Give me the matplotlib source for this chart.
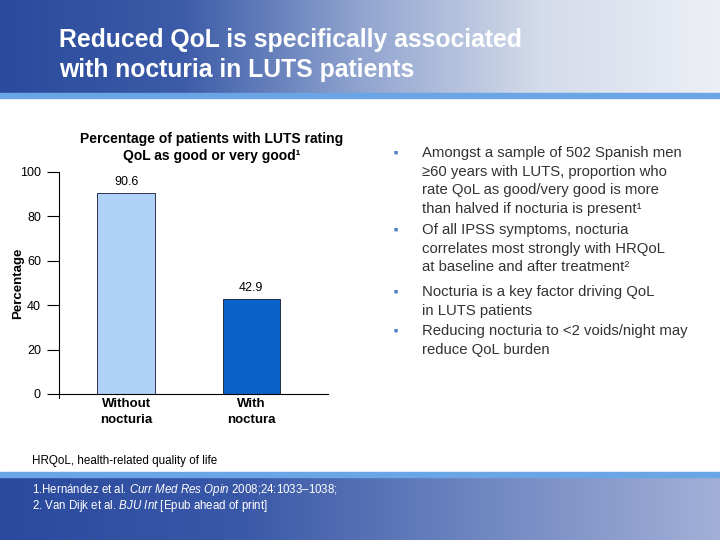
import matplotlib
matplotlib.use("Agg")
import matplotlib.pyplot as plt
import numpy as np
from matplotlib.colors import LinearSegmentedColormap

plt.rcParams['font.family'] = ['Liberation Sans', 'DejaVu Sans']
plt.rcParams['mathtext.fontset'] = 'custom'
plt.rcParams['mathtext.rm'] = 'Liberation Sans'
plt.rcParams['mathtext.it'] = 'Liberation Sans:italic'

categories = ["Without\nnocturia", "With\nnoctura"]
values = [90.6, 42.9]
bar_colors = ["#b0d2f8", "#0862c8"]
y_ticks = [0, 20, 40, 60, 80, 100]

bullets = [
    "Amongst a sample of 502 Spanish men\n\u226560 years with LUTS, proportion who\nrate QoL as good/very good is more\nthan halved if nocturia is present\u00b9",
    "Of all IPSS symptoms, nocturia\ncorrelates most strongly with HRQoL\nat baseline and after treatment\u00b2",
    "Nocturia is a key factor driving QoL\nin LUTS patients",
    "Reducing nocturia to <2 voids/night may\nreduce QoL burden",
]
bullet_y = [153, 230, 292, 331]

fig = plt.figure(figsize=(7.2, 5.4), dpi=100)

# background header / footer
bg = fig.add_axes([0, 0, 1, 1])
bg.set_xlim(0, 720)
bg.set_ylim(540, 0)
bg.axis("off")
head_cmap = LinearSegmentedColormap.from_list(
    "head", ["#2a4b9c", "#3c5ba8", "#90a4cf", "#d4dbea", "#eceff5"])
foot_cmap = LinearSegmentedColormap.from_list(
    "foot", ["#2a4a9e", "#3a58a8", "#6f86c0", "#a2b0d8"])
grad = np.linspace(0, 1, 256).reshape(1, -1)
bg.imshow(grad, cmap=head_cmap, extent=[0, 720, 93, 0], aspect="auto")
bg.imshow(grad, cmap=foot_cmap, extent=[0, 720, 540, 476], aspect="auto")
bg.fill_between([0, 720], 93, 98, color="#6aa6e6")
bg.fill_between([0, 720], 472, 477, color="#6aa6e6")

bg.text(59, 40, "Reduced QoL is specifically associated", color="white",
        fontsize=17.8, fontweight="bold", va="center", ha="left")
bg.text(59, 70, "with nocturia in LUTS patients", color="white",
        fontsize=17.8, fontweight="bold", va="center", ha="left")

# chart title
bg.text(212, 139, "Percentage of patients with LUTS rating", fontsize=10,
        fontweight="bold", ha="center", va="center")
bg.text(212, 156, "QoL as good or very good\u00b9", fontsize=10,
        fontweight="bold", ha="center", va="center")

# bullets
for txt, y in zip(bullets, bullet_y):
    bg.text(396, y, "\u25a0", color="#4a7ec8", fontsize=5, ha="center", va="center")
    bg.text(422, y - 7, txt, color="#333333", fontsize=10.7, ha="left", va="top",
            linespacing=1.42)

bg.text(32, 461, "HRQoL, health-related quality of life", fontsize=8.4,
        ha="left", va="center", color="black")
bg.text(32, 490, "1.Hern\u00e1ndez et al. $\\it{Curr\\ Med\\ Res\\ Opin}$ 2008;24:1033\u20131038;",
        fontsize=8.3, color="white", ha="left", va="center")
bg.text(32, 506, "2. Van Dijk et al. $\\it{BJU\\ Int}$ [Epub ahead of print]",
        fontsize=8.3, color="white", ha="left", va="center")

# bar chart
ax = fig.add_axes([59 / 720, 1 - 394 / 540, (328 - 59) / 720, (394 - 172) / 540])
ax.patch.set_alpha(0)
x = np.arange(len(values))
ax.bar(x, values, width=0.46, color=bar_colors, edgecolor="#101830", linewidth=0.6)
for xi, v in zip(x, values):
    ax.text(xi, v + 2, f"{v:.1f}", ha="center", va="bottom", fontsize=9)
ax.set_xlim(-0.536, 1.612)
ax.set_ylim(0, 100)
ax.set_yticks(y_ticks)
ax.set_yticklabels([str(t) for t in y_ticks], fontsize=9)
ax.set_xticks(x)
ax.set_xticklabels(categories, fontsize=9.5, fontweight="bold", linespacing=1.4)
ax.tick_params(axis="x", length=0, pad=3)
ax.tick_params(axis="y", length=9, width=0.8, pad=4)
ax.spines["top"].set_visible(False)
ax.spines["right"].set_visible(False)
ax.spines["left"].set_bounds(-2, 100)
ax.spines["left"].set_linewidth(0.8)
ax.spines["bottom"].set_linewidth(0.8)
ax.set_ylabel("Percentage", fontsize=9.5, fontweight="bold")
ax.yaxis.set_label_coords((24 - 59) / (328 - 59), 0.5)

fig.savefig("out.png", dpi=100)
